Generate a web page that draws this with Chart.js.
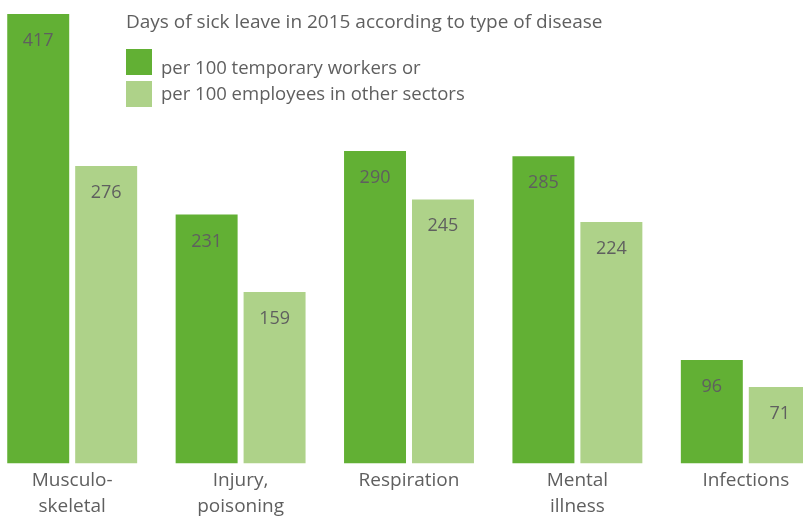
<!DOCTYPE html>
<html>
<head>
<meta charset="utf-8">
<script src="https://cdn.jsdelivr.net/npm/chart.js@4"></script>
<style>
  html, body { margin: 0; padding: 0; background: #fff; overflow: hidden; }
  #frame { position: relative; width: 803px; height: 519px; overflow: hidden; }
  #wrap { position: absolute; left: -12px; top: 0; width: 842px; height: 519px; }
</style>
</head>
<body>
<div id="frame"><div id="wrap"><canvas id="c"></canvas></div></div>
<script>
const chartTitle = "Days of sick leave in 2015 according to type of disease";
const categories = [["Musculo-", "skeletal"], ["Injury,", "poisoning"], ["Respiration"], ["Mental", "illness"], ["Infections"]];
const seriesNames = ["per 100 temporary workers or", "per 100 employees in other sectors"];
const temporaryWorkers = [417, 231, 290, 285, 96];
const otherSectors = [276, 159, 245, 224, 71];

const FONT = "'Open Sans', sans-serif";
const TEXT = "#5f5f5f";
const DARK = "#62b034";
const LIGHT = "#aed289";

const overlay = {
  id: "overlay",
  afterDatasetsDraw(chart) {
    const ctx = chart.ctx;
    ctx.save();
    ctx.fillStyle = TEXT;
    ctx.font = "18px " + FONT;
    ctx.textAlign = "center";
    ctx.textBaseline = "alphabetic";
    chart.data.datasets.forEach((ds, di) => {
      const meta = chart.getDatasetMeta(di);
      meta.data.forEach((bar, i) => {
        ctx.fillText(String(ds.data[i]), bar.x, bar.y + 32);
      });
    });
    // title + legend
    const ox = 12;
    ctx.textAlign = "left";
    ctx.font = "19px " + FONT;
    ctx.fillText(chartTitle, 126 + ox, 28);
    ctx.font = "18.5px " + FONT;
    chart.data.datasets.forEach((ds, di) => {
      const y = 49 + di * 32;
      ctx.fillStyle = ds.backgroundColor;
      ctx.fillRect(126 + ox, y, 26, 26);
      ctx.fillStyle = TEXT;
      ctx.fillText(ds.label, 161 + ox, 74 + di * 26);
    });
    ctx.restore();
  }
};

new Chart(document.getElementById("c"), {
  type: "bar",
  data: {
    labels: categories,
    datasets: [
      { label: seriesNames[0], data: temporaryWorkers, backgroundColor: DARK },
      { label: seriesNames[1], data: otherSectors, backgroundColor: LIGHT }
    ]
  },
  options: {
    responsive: true,
    maintainAspectRatio: false,
    animation: false,
    events: [],
    layout: { padding: 0 },
    plugins: { legend: { display: false }, title: { display: false }, tooltip: { enabled: false } },
    datasets: { bar: { categoryPercentage: 0.807, barPercentage: 0.912 } },
    scales: {
      x: {
        grid: { display: false, drawTicks: false },
        border: { display: false },
        ticks: { color: TEXT, font: { family: FONT, size: 19, lineHeight: 1.37 }, padding: 4, maxRotation: 0, autoSkip: false },
        afterFit(scale) { scale.height = 55.5; }
      },
      y: {
        display: false,
        min: 0,
        max: 430
      }
    }
  },
  plugins: [overlay]
});
</script>
</body>
</html>
